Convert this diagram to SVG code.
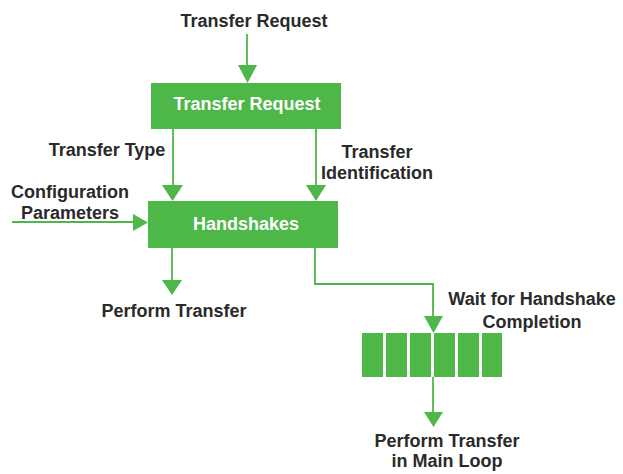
<svg xmlns="http://www.w3.org/2000/svg" width="623" height="474" viewBox="0 0 623 474">
<defs>
<style>
.lbl{font-family:"Liberation Sans",Arial,sans-serif;font-weight:bold;font-size:18px;fill:#2a2a2a}
.wt{font-family:"Liberation Sans",Arial,sans-serif;font-weight:bold;font-size:18px;fill:#ffffff}
.box{fill:#4db748}
.ln{stroke:#4db748;stroke-width:1.8;fill:none}
.ah{fill:#4db748}
</style>
</defs>
<rect width="623" height="474" fill="#ffffff"/>
<g id="lbl-transfer-request-in">
<text class="lbl" x="254" y="27" text-anchor="middle">Transfer Request</text>
</g>
<g id="node-transfer-request">
<rect class="box" x="151" y="83" width="190" height="46"/>
<text class="wt" x="247" y="110" text-anchor="middle">Transfer Request</text>
</g>
<g id="lbl-transfer-type">
<text class="lbl" x="107" y="156" text-anchor="middle">Transfer Type</text>
</g>
<g id="lbl-transfer-id">
<text class="lbl" x="377" y="158" text-anchor="middle">Transfer</text>
<text class="lbl" x="377" y="179" text-anchor="middle">Identification</text>
</g>
<g id="lbl-config">
<text class="lbl" x="70" y="198" text-anchor="middle">Configuration</text>
<text class="lbl" x="70" y="219" text-anchor="middle">Parameters</text>
</g>
<g id="node-handshakes">
<rect class="box" x="148" y="201" width="190" height="47"/>
<text class="wt" x="246" y="230" text-anchor="middle">Handshakes</text>
</g>
<g id="lbl-perform">
<text class="lbl" x="174" y="317" text-anchor="middle">Perform Transfer</text>
</g>
<g id="lbl-wait">
<text class="lbl" x="532" y="305" text-anchor="middle">Wait for Handshake</text>
<text class="lbl" x="532" y="328" text-anchor="middle">Completion</text>
</g>
<g id="node-queue">
<rect class="box" x="362" y="333" width="21" height="44"/>
<rect class="box" x="386" y="333" width="21" height="44"/>
<rect class="box" x="410" y="333" width="21" height="44"/>
<rect class="box" x="434" y="333" width="21" height="44"/>
<rect class="box" x="458" y="333" width="21" height="44"/>
<rect class="box" x="482" y="333" width="20" height="44"/>
</g>
<g id="lbl-perform-main">
<text class="lbl" x="447" y="447" text-anchor="middle">Perform Transfer</text>
<text class="lbl" x="447" y="467" text-anchor="middle">in Main Loop</text>
</g>
<g id="connectors">
<line class="ln" x1="247" y1="34" x2="247" y2="66"/>
<polygon class="ah" points="238,65 257,65 247.5,83"/>
<line class="ln" x1="173" y1="129" x2="173" y2="186"/>
<polygon class="ah" points="162,185 183,185 172.5,201"/>
<line class="ln" x1="316" y1="129" x2="316" y2="186"/>
<polygon class="ah" points="306,185 326,185 316,201"/>
<line class="ln" x1="12" y1="222" x2="134" y2="222"/>
<polygon class="ah" points="133,214 133,231 148,222.5"/>
<line class="ln" x1="172" y1="248" x2="172" y2="281"/>
<polygon class="ah" points="162,280 182,280 172,295"/>
<polyline class="ln" points="315,248 315,284 433,284 433,317"/>
<polygon class="ah" points="424,316 443,316 433.5,333"/>
<line class="ln" x1="433" y1="377" x2="433" y2="413"/>
<polygon class="ah" points="424,412 443,412 433.5,427"/>
</g>
</svg>
